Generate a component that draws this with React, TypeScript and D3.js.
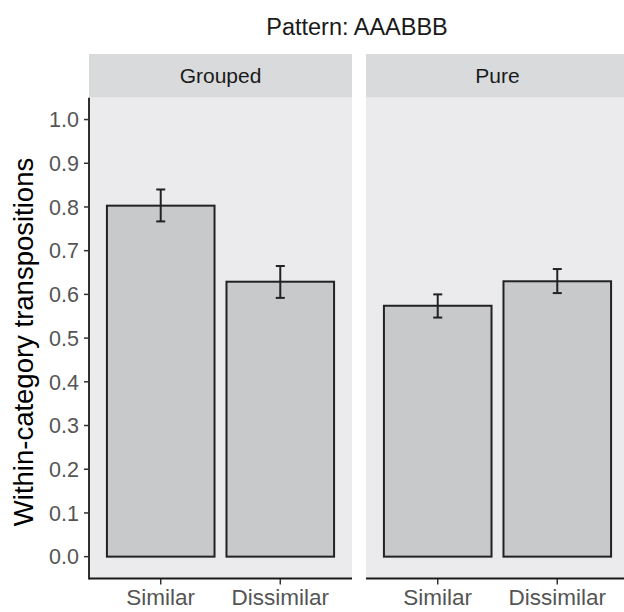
import * as d3 from 'd3'

const facets = ['Grouped', 'Pure']
const conditions = ['Similar', 'Dissimilar']
const groupedMeans = [0.803, 0.629]
const groupedLower = [0.767, 0.592]
const groupedUpper = [0.84, 0.665]
const pureMeans = [0.574, 0.63]
const pureLower = [0.547, 0.603]
const pureUpper = [0.6, 0.658]
const yTicks = [0, 0.1, 0.2, 0.3, 0.4, 0.5, 0.6, 0.7, 0.8, 0.9, 1.0]

const width = 624
const height = 612
const font = '"Liberation Sans", Arial, Helvetica, sans-serif'

const panelTop = 97.7
const panelBottom = 578.5
const stripTop = 54
const panelW = 263
const panelGap = 14
const panelLeft = 89

export default function App() {
  const y = d3.scaleLinear().domain([-0.05, 1.05]).range([panelBottom, panelTop])
  const x = d3.scalePoint<string>().domain(conditions).range([0, panelW]).padding(0.6)
  const bw = x.step() * 0.9

  const rows = [
    { name: facets[0], mean: groupedMeans, lo: groupedLower, hi: groupedUpper },
    { name: facets[1], mean: pureMeans, lo: pureLower, hi: pureUpper },
  ]

  return (
    <svg width={width} height={height} style={{ position: 'absolute', left: 0, top: 0 }} fontFamily={font}>
      <rect width={width} height={height} fill="#fff" />
      <text x={357} y={35} textAnchor="middle" fontSize={23.5} fill="#1a1a1a">Pattern: AAABBB</text>

      {rows.map((f, fi) => {
        const left = panelLeft + fi * (panelW + panelGap)
        return (
          <g key={f.name} transform={`translate(${left},0)`}>
            <rect x={0} y={stripTop} width={panelW} height={panelTop - stripTop} fill="#d9dadc" />
            <text x={panelW / 2} y={(stripTop + panelTop) / 2} dy="0.36em" textAnchor="middle" fontSize={21} fill="#1a1a1a">{f.name}</text>
            <rect x={0} y={panelTop} width={panelW} height={panelBottom - panelTop} fill="#ebebed" />
            {conditions.map((c, i) => {
              const cx = x(c)!
              return (
                <g key={c}>
                  <rect x={cx - bw / 2} y={y(f.mean[i])} width={bw} height={y(0) - y(f.mean[i])}
                    fill="#c8c9cb" stroke="#222" strokeWidth={2} />
                  <line x1={cx} x2={cx} y1={y(f.lo[i])} y2={y(f.hi[i])} stroke="#222" strokeWidth={2} />
                  <line x1={cx - 4.5} x2={cx + 4.5} y1={y(f.lo[i])} y2={y(f.lo[i])} stroke="#222" strokeWidth={2} />
                  <line x1={cx - 4.5} x2={cx + 4.5} y1={y(f.hi[i])} y2={y(f.hi[i])} stroke="#222" strokeWidth={2} />
                  <line x1={cx} x2={cx} y1={panelBottom} y2={panelBottom + 6} stroke="#333" strokeWidth={1.5} />
                  <text x={cx} y={605} textAnchor="middle" fontSize={22.5} fill="#555">{c}</text>
                </g>
              )
            })}
            <line x1={0} x2={panelW} y1={panelBottom} y2={panelBottom} stroke="#1a1a1a" strokeWidth={1.8} />
          </g>
        )
      })}

      <line x1={panelLeft} x2={panelLeft} y1={panelTop} y2={panelBottom + 0.9} stroke="#1a1a1a" strokeWidth={1.8} />
      {yTicks.map(t => (
        <g key={t}>
          <line x1={panelLeft - 5} x2={panelLeft} y1={y(t)} y2={y(t)} stroke="#333" strokeWidth={1.5} />
          <text x={panelLeft - 10} y={y(t)} dy="0.36em" textAnchor="end" fontSize={21.5} fill="#555">{d3.format('.1f')(t)}</text>
        </g>
      ))}
      <text transform={`translate(32.5,342) rotate(-90)`} textAnchor="middle" fontSize={27.5} fill="#000">
        Within-category transpositions
      </text>
    </svg>
  )
}
